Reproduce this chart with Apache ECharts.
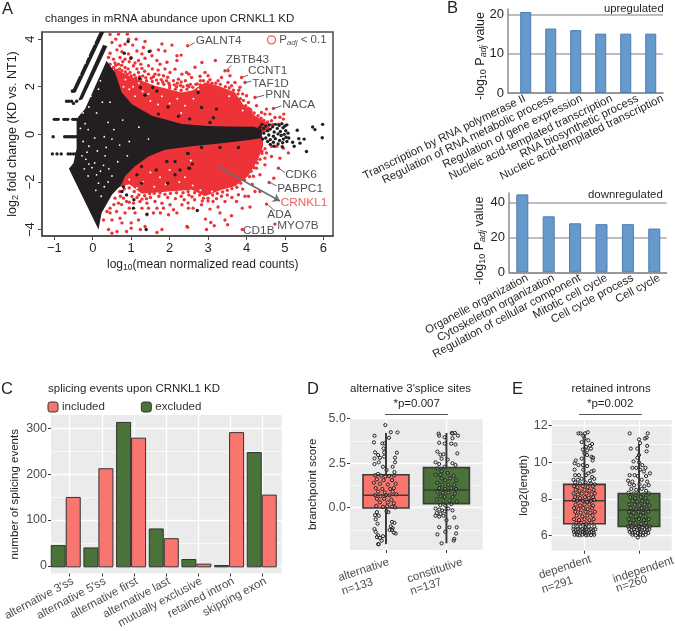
<!DOCTYPE html>
<html><head><meta charset="utf-8">
<style>html,body{margin:0;padding:0;background:#fff}#c{width:675px;height:631px}</style>
<script src="https://cdn.jsdelivr.net/npm/echarts@6/dist/echarts.min.js"></script>
</head><body><div id="c"></div>
<script>
// ---------- Panel A: MA plot ----------
const maRedCloudUpper=[[.55,2.8],[.93,2.46],[1.62,2.04],[2.32,1.76],[2.6,1.85],[2.92,2.18],[3.26,2.04],[3.7,1.76],[3.91,1.27],[4.22,.78],[4.6,.45],[4.6,.1],[.4,.1]];
const maRedCloudLower=[[.62,-2.25],[.95,-2.1],[1.28,-2.5],[1.97,-2.4],[2.58,-2.33],[2.92,-2.6],[3.35,-2.33],[3.7,-2.18],[4.04,-1.76],[4.3,-1.07],[4.43,-.5],[4.43,-.1],[.6,-.1]];
const maBlackCore=[[-.2,1.06],[.36,3.09],[.58,2.6],[.755,1.76],[1.02,1.27],[1.54,.78],[2.32,.43],[3,.35],[3.5,.33],[4.2,.32],[4.4,.2],[4.4,-.15],[4.13,-.23],[3.35,-.37],[2.58,-.5],[1.88,-.65],[1.45,-.93],[1.1,-1.34],[.84,-1.76],[.755,-2.1],[.5,-2.54],[.23,-3.3],[.15,-4.0],[-.62,-1.45],[-.5,-1.2],[-.42,-.6],[-.42,.6],[-.37,.75]];
const maBlackStripeA=[[-.56,1.74],[.18,4.3],[.3,4.3],[-.44,1.78]];
const maBlackStripeB=[[-.38,1.42],[.27,3.76],[.38,3.7],[-.27,1.46]];
const maRedFringe=[
[.45,4.2],[.67,4.21],[.9,4.21],[.93,4.0],[1.13,4.0],[1.36,3.9],[.6,4.0],[.5,3.86],[.71,3.72],[.84,3.79],[1.04,3.75],[1.32,3.65],[1.8,3.8],[2.06,3.75],[2.47,3.72],[1.71,3.55],[1.5,3.5],[1.28,3.38],[1.15,3.5],[.93,3.38],[.76,3.47],[.63,3.55],[.45,3.41],[.41,3.23],[.54,3.16],[.71,3.23],[.84,3.16],[1.0,3.23],[1.19,3.1],[1.36,3.2],[1.54,3.3],[1.67,3.1],[1.88,3.5],[2.19,3.3],[2.3,3.33],[2.19,3.1],[1.93,3.03],[1.75,2.95],[1.45,2.88],[1.28,2.77],[1.06,2.88],[.84,2.81],[.67,2.95],[.54,2.81],[.45,2.95],[2.14,2.74],[2.01,2.6],[2.32,2.53],[2.5,2.53],[2.54,2.1],[2.41,2.25],[2.23,2.32],[2.1,2.25],[1.84,2.46],[1.62,2.53],[1.45,2.53],[1.19,2.6],[.97,2.6],[.76,2.67],
[.58,3.0],[.78,3.05],[.95,3.05],[1.1,3.0],[1.25,2.95],[1.55,2.75],[1.7,2.7],[1.88,2.75],[1.92,2.25],[1.78,2.3],[1.3,2.45],[.62,2.7],[2.0,2.05],[2.18,2.0],[2.35,2.0],
[.7,2.75],[.85,2.62],[1.0,2.45],[1.12,2.38],[1.25,2.3],[1.4,2.25],[1.55,2.22],[1.7,2.14],[1.85,2.1],[2.0,1.95],[2.15,1.9],[2.3,1.85],[2.45,1.9],[.9,2.52],[1.08,2.5],[1.22,2.42],[1.38,2.38],[1.52,2.36],[1.66,2.28],[1.82,2.2],[1.98,2.15],[2.12,2.08],[2.28,2.05],[2.46,2.05],[2.6,1.98],[2.72,2.12],[2.8,2.08],[2.88,2.25],[3.0,2.2],[3.1,2.15],[3.2,2.15],[3.32,2.1],[3.45,2.0],[3.55,1.95],[3.66,1.85],[3.78,1.7],[3.84,1.5],[3.92,1.42],[3.98,1.2],[4.05,1.1],[4.12,.95],[4.2,.9],[4.3,.78],[4.38,.68],[4.45,.58],[4.55,.52],[4.68,.42],[.6,2.9],[.75,2.9],[.92,2.75],[1.15,2.75],[1.35,2.65],[1.58,2.42],[1.72,2.5],[1.95,2.4],[2.2,2.15],[2.3,2.2],
[3.19,3.1],[2.84,3.02],[3.44,2.67],[3.52,2.67],[2.66,2.82],[2.44,2.6],[2.92,2.6],[3.0,2.46],[2.79,2.44],[2.57,2.39],[3.57,2.46],[3.35,2.39],[3.87,2.39],[3.96,2.18],[3.7,2.18],[3.26,2.25],[3.52,2.18],[3.61,2.04],[3.83,1.98],[4.0,1.62],[4.22,1.55],[4.05,1.34],[4.26,1.2],[4.52,1.06],[4.7,1.09],[4.39,.92],[4.48,.85],[4.87,.72],[4.97,.85],[4.61,.85],[4.74,.71],[4.65,.57],[4.83,.43],[4.96,.64],[2.68,2.1],[2.5,2.0],[3.05,2.3],[3.9,1.7],[4.1,1.05],[3.8,1.85],[2.8,2.25],
[.28,-3.6],[.5,-3.6],[.45,-3.3],[.62,-3.24],[.71,-3.52],[.84,-3.3],[.41,-4.0],[.5,-4.15],[.63,-4.08],[.88,-4.08],[1,-3.94],[1.24,-4.0],[1.36,-3.87],[1.67,-4.12],[1.8,-4.0],[1.19,-3.6],[1.0,-3.72],[.76,-3.72],[1.41,-3.38],[1.58,-3.3],[1.76,-3.3],[1.97,-3.38],[2.19,-3.3],[1.67,-3.1],[1.84,-3.1],[2.1,-3.17],[1.45,-3.1],[1.28,-3.1],[1.1,-3.3],[.95,-3.1],[.67,-2.89],[.88,-2.82],[1.06,-2.89],[1.23,-2.82],[1.41,-2.89],[1.62,-2.82],[1.8,-2.89],[.58,-2.68],[.8,-2.68],[1.02,-2.61],[.45,-3.1],[.37,-3.24],[2.45,-3.87],[2.32,-2.96],[2.01,-2.96],[2.49,-3.1],
[.55,-2.95],[.75,-2.95],[.72,-2.6],[.95,-2.85],[1.15,-2.65],[1.5,-2.65],[1.72,-2.6],[1.95,-2.65],[2.15,-2.7],[2.3,-2.6],[2.5,-2.55],[2.65,-2.75],
[.7,-2.4],[.82,-2.3],[.95,-2.25],[1.08,-2.4],[1.2,-2.55],[1.35,-2.58],[1.48,-2.5],[1.6,-2.48],[1.75,-2.45],[1.88,-2.52],[2.02,-2.48],[2.18,-2.45],[2.35,-2.45],[2.48,-2.4],[2.65,-2.45],[2.78,-2.55],[2.88,-2.68],[3.0,-2.68],[3.12,-2.55],[3.24,-2.48],[3.38,-2.42],[3.5,-2.35],[3.62,-2.28],[3.75,-2.22],[3.85,-2.05],[3.95,-1.92],[4.08,-1.78],[4.12,-1.55],[4.2,-1.4],[4.28,-1.2],[4.35,-1.05],[4.4,-.8],[4.48,-.6],[2.85,-2.8],[2.38,-2.75],[2.58,-2.62],[3.22,-2.7],[3.35,-2.6],[1.28,-2.72],[1.4,-2.7],
[2.47,-3.9],[2.93,-3.56],[3.07,-3.7],[2.96,-4.0],[3.16,-3.84],[3.44,-3.6],[3.51,-3.8],[3.89,-4.0],[4.74,-3.77],[4.52,-2.93],[4.59,-2.02],[4.71,-1.84],[4.83,-1.42],[3.61,-3.42],[3.31,-3.3],[3.05,-3.14],[3.89,-3.1],[4.09,-3.05],[2.61,-3.1],[2.83,-2.96],[3.26,-3.05],[3.74,-2.82],[4.05,-2.6],[4.22,-2.4],[4.35,-2.4],[3.96,-2.6],[3.79,-2.54],[3.44,-2.82],[3.13,-2.82],[2.48,-2.88],[4.18,-1.76],[4.26,-1.42],[4.35,-1.7],[4.48,-1.28],[4.48,-1],[4.65,-.93],[4.87,-1],[5.09,-.78],[4.65,-.5],[4.79,-.5],[4.96,-.58],[4.4,-.71],[4.52,-.78],[3.5,-2.55],[3.0,-2.8],[3.62,-2.65],[4.15,-2.1],[3.9,-2.3]];
const maBlackPoints=[
[.92,3.9],[1.47,3.48],[.82,3.41],[.99,3.2],[1.22,2.35],[1.24,1.97],[1.67,1.82],[1.36,1.64],[1.56,1.97],[1.96,1.15],[2.23,.76],[1.71,.85],[2.74,1.76],[3.22,1.06],[2.83,1.13],[2.52,.65],[3.14,.7],[3.05,.5],
[1.27,-1.35],[1.15,-1.7],[.8,-2.2],[.76,-2.4],[.88,-2.55],[1.07,-2.75],[1.27,-2.05],[1.95,-2.05],[1.65,-1.5],[2.14,-1.7],[2.14,-1.14],[2.47,-.8],[2.5,-1.42],[2.27,-1.5],[1.06,-3.1],[1.41,-3.35],[1.39,-4.0],[1.93,-1.14],[2.72,-3.2],[2.48,-.8],[2.59,-1.25],[2.52,-1.42],[2.83,-.55],[3.31,-.55],[3.79,-.55],
[-1.0,.63],[-.95,.63],[-.9,.63],[-.75,.63],[-.7,.63],[-.65,.63],[-.52,.63],[-.47,.63],[-.42,.63],[-1.03,-.1],[-.73,-.1],[-.68,-.1],[-.63,-.1],[-.58,-.1],[-.53,-.1],[-.48,-.1],[-.43,-.1],[-1.05,-.82],[-.93,-.82],[-.82,-.82],[-.64,-.82],[-.58,-.82],[-.5,-.82],[-.44,-.82],[-.68,1.39],[-.62,1.39],[-.55,1.39],[-.5,1.3],[-.42,1.39],[-.53,1.82],[-.48,1.82],
[4.35,.3],[4.4,.42],[4.45,.25],[4.5,.35],[4.55,.15],[4.6,.4],[4.62,.22],[4.68,.32],[4.72,.1],[4.75,.42],[4.8,.25],[4.85,.38],[4.88,.12],[4.92,.45],[4.95,.28],[5,.35],[5.02,.15],[4.9,-.05],[4.45,.05],[4.58,-.03],[4.7,-.08],[4.82,.02],[4.98,0],[5.03,-.12],[4.5,-.15],[4.62,-.22],[4.75,-.18],[4.86,-.26],[4.96,-.2],[4.42,-.2],[4.55,-.3],[4.7,-.33],[4.82,-.4],[4.94,-.35],[5.05,-.3],[4.62,-.42],[4.72,-.5],[4.93,-.52],[5.05,.4],[5.08,.05],
[5.32,.17],[5.72,.31],[5.78,.2],[5.98,.42],[5.97,-.14],[5.36,-.18],[5.56,-.72],[5.39,-.37],[5.24,-.5],[5.5,-.2],[5.2,-.33],[5.1,-.15]];
const maCoreGaps=[[-.12,.2],[-.2,.45],[.1,.9],[.25,1.35],[-.05,1.6],[.15,1.9],[.2,2.25],[-.25,.9],[.4,.5],[.55,.2],[.78,.6],[.3,-.1],[-.25,-.3],[-.1,-.5],[.05,-.15],[.35,-.55],[.5,-.2],[.7,-.45],[.95,-.3],[-.28,-.9],[-.18,-1.05],[-.1,-1.25],[-.02,-1.4],[.05,-1.2],[-.15,-.75],[.12,-.7],[.1,-1.7],[.2,-1.55],[.28,-1.3],[.32,-.9],[.42,-1.45],[.5,-1.75],[.15,-2.05],[.08,-2.35],[.22,-2.6],[.3,-2.2],[.4,-2.0],[-.12,-1.75],[-.22,-1.45],[1.2,.3],[1.45,-.2],[.9,-.9],[.65,-1.15],[-.1,1.15],[.45,1.35],[-.32,.25],
[-.34,2.5],[-.2,3.0],[-.12,3.28],[.03,3.8],[-.1,2.75],[.02,3.2],[.16,3.6],[-.22,2.2]];
const maRedGaps=[[.8,2.0],[1.05,2.0],[1.3,1.8],[1.1,1.6],[.95,1.9],[1.5,1.4],[1.8,1.6],[2.0,1.3],[2.2,1.5],[1.7,1.25],[2.4,1.2],[2.3,.9],[1.45,1.7],[.85,2.3],[1.2,2.15],[.95,-1.9],[1.3,-2.0],[1.6,-2.2],[1.9,-2.1],[1.5,-1.6],[2.0,-1.5],[2.25,-2],[2.4,-1.8],[1.15,-2.25],[1.75,-1.8],[2.6,-2.15],[2.8,-2.35],[.9,-2.3],[3.1,-2.4],[2.55,-1.1],[2.62,1.5],[2.75,1.9],[3.55,1.6],[3.9,1.0]];
const geneNames=['GALNT4','ZBTB43','CCNT1','TAF1D','PNN','NACA','CDK6','PABPC1','CRNKL1','ADA','MYO7B','CD1B'];
const geneLabelX=[2.68,3.46,4.04,4.15,4.49,4.93,5.01,4.8,4.89,4.54,4.8,3.91];
const geneLabelY=[3.92,3.12,2.66,2.13,1.68,1.26,-1.68,-2.28,-2.87,-3.38,-3.85,-4.03];
const geneLeaders=[[[2.52,3.73],[2.65,3.85]],[[3.48,2.7],[3.61,2.9]],[[3.89,2.39],[4.04,2.49]],[[3.97,2.17],[4.13,2.24]],[[4.24,1.55],[4.46,1.64]],[[4.72,1.09],[4.91,1.2]],[[4.82,-1.4],[5.0,-1.61]],[[4.59,-2],[4.78,-2.17]],[[4.52,-2.91],[4.74,-3.22]]];
const crnkl1Arrow=[[3.26,-1.36],[4.87,-2.8]];
const maXTicks=[-1,0,1,2,3,4,5,6], maYTicks=[-4,-2,0,2,4];
// ---------- Panel B ----------
const upCategories=['Transcription by RNA polymerase II','Regulation of RNA metabolic process','Regulation of gene expression','Nucleic acid-templated transcription','RNA biosynthetic process','Nucleic acid-templated transcription'];
const upValues=[20.6,16.4,16.0,15.1,15.1,15.1];
const downCategories=['Organelle organization','Cytoskeleton organization','Regulation of cellular component','Mitotic cell cycle','Cell cycle process','Cell cycle'];
const downValues=[44.5,32,28,27.5,27.5,25];
// ---------- Panel C ----------
const spliceCategories=["alternative 3'ss","alternative 5'ss",'alternative first','alternative last','mutually exclusive','retained intron','skipping exon'];
const spliceExcluded=[48,43,314,84,18,5,249];
const spliceIncluded=[152,214,280,63,8,292,157];
// ---------- Panel D ----------
const altBox=[0,-2.05,-.02,.7,1.85,4.2];
const conBox=[1,-2.0,.23,1.0,2.25,4.2];
const altPoints=[[-.01,4.64],[.08,4.24],[.19,4.23],[-.19,4.04],[.05,3.93],[-.2,3.67],[-.06,3.61],[-.02,3.62],[-.04,3.33],[-.18,3.11],[-.03,3.1],[-.13,2.96],[-.03,2.87],[.18,3.09],[.15,2.81],[-.19,2.77],[-.1,2.8],[-.12,2.55],[.15,2.55],[-.19,2.45],[-.05,2.3],[.11,2.3],[.01,2.12],[.14,2.0],[-.13,1.9],[-.18,1.82],[-.08,1.8],[-.01,1.75],[.05,1.78],[.13,1.8],[-.15,1.6],[-.04,1.55],[.1,1.55],[-.2,1.4],[-.1,1.35],[.03,1.3],[.16,1.35],[-.17,1.1],[-.06,1.05],[.07,1.05],[.13,1.1],[-.13,.9],[-.02,.85],[.11,.9],[-.18,.7],[-.09,.65],[0,.7],[.06,.7],[.17,.75],[-.15,.5],[-.03,.5],[.09,.45],[-.1,.3],[.03,.3],[.13,.25],[-.16,.1],[-.05,.05],[.02,.08],[.1,.05],[.15,.02],[-.15,-.25],[-.18,-.42],[-.12,-.45],[.01,-.2],[.04,-.25],[-.17,-.65],[-.14,-.9],[.1,-.8],[.14,-.85],[.08,-1.05],[.11,-1.15],[.06,-1.25],[-.19,-1.2],[-.17,-1.35],[-.13,-1.55],[-.05,-1.6],[.1,-1.25],[.16,-1.45],[.13,-1.4],[-.1,-1.7],[-.07,-1.85],[-.15,-1.65],[-.13,-2.05],[-.12,-2.05]];
const conPoints=[[.87,4.16],[.88,4.05],[1.09,4.2],[1.1,4.16],[1.14,4.2],[1.19,4.05],[.97,3.96],[1.1,3.9],[.88,3.65],[.97,3.6],[1.08,3.6],[1.15,3.55],[1.18,3.05],[.85,3.15],[.9,2.98],[.95,3],[.92,2.75],[1.02,2.7],[.82,2.55],[.88,2.45],[.97,2.3],[1.1,2.5],[1.15,2.4],[.85,2.2],[.92,2.05],[.82,1.85],[.9,1.85],[1.02,1.95],[1.12,1.8],[.92,1.65],[.98,1.55],[1.06,1.65],[1.16,1.55],[.85,1.4],[.93,1.3],[1.03,1.3],[1.13,1.3],[.88,1.1],[.98,1.05],[1.08,1.1],[1.16,1.05],[.85,.9],[.94,.85],[1.03,.85],[1.14,.8],[.9,.65],[.97,.6],[1.1,.6],[.84,.45],[.95,.4],[1.05,.4],[1.17,.35],[.9,.15],[.98,.12],[1.08,.2],[.82,-.05],[.88,-.1],[.93,-.15],[.97,-.2],[.84,-.3],[.9,-.35],[.95,-.45],[.88,-.5],[.82,-.45],[1.03,-.05],[1.1,-.15],[1.13,-.55],[1,-.7],[1.05,-1.1],[1.17,-1.1],[.88,-1.1],[.98,-1.35],[1.16,-1.45],[.85,-1.5],[1.13,-1.75],[1.12,-1.85],[.92,-2.0]];
// ---------- Panel E ----------
const depBox=[0,6.0,6.65,7.9,8.8,11.5];
const indBox=[1,5.95,6.5,7.4,8.3,11.0];
const depPoints=[[-.11,11.58],[-.07,11.58],[.01,11.58],[.06,11.64],[-.02,11.45],[0,11.3],[.07,11.2],[-.05,11.1],[.14,11],[.1,10.9],[.03,10.85],[.12,10.75],[.05,10.65],[-.03,10.7],[0,10.5],[.13,10.3],[.05,10.4],[-.05,10.2],[-.16,10.1],[.16,10.25],[.15,10.1],[-.18,9.95],[-.11,9.85],[-.03,9.85],[.05,9.8],[-.18,9.6],[-.02,9.6],[.17,9.55],[.13,9.5],[.07,9.4],[-.17,9.3],[-.1,9.3],[.03,9.3],[.14,9.2],[-.2,9.05],[-.12,9.05],[-.05,9.1],[.1,9],[.18,9.1],[-.17,8.9],[-.08,8.85],[.02,8.9],[.12,8.85],[.19,8.8],[-.19,8.7],[-.13,8.65],[-.03,8.7],[.06,8.65],[.15,8.7],[-.16,8.5],[-.09,8.45],[0,8.5],[.09,8.45],[.17,8.5],[-.2,8.3],[-.12,8.25],[-.05,8.3],[.04,8.3],[.13,8.25],[.19,8.3],[-.17,8.1],[-.08,8.05],[.01,8.1],[.08,8.05],[.16,8.1],[-.19,7.95],[-.13,7.9],[-.03,7.9],[.05,7.85],[.12,7.9],[.18,7.95],[-.16,7.7],[-.08,7.65],[0,7.7],[.09,7.7],[.16,7.65],[-.19,7.5],[-.11,7.45],[-.02,7.5],[.06,7.45],[.14,7.5],[-.17,7.3],[-.07,7.25],[.02,7.3],[.11,7.25],[.19,7.3],[-.14,7.1],[-.04,7.05],[.05,7.1],[.15,7.1],[-.19,6.9],[-.1,6.85],[0,6.9],[.09,6.85],[.17,6.9],[-.15,6.7],[-.06,6.7],[.03,6.65],[.13,6.7],[-.2,6.5],[-.13,6.5],[-.07,6.5],[.02,6.45],[.08,6.5],[.18,6.5],[-.2,6.35],[-.16,6.3],[-.12,6.35],[-.08,6.3],[-.04,6.35],[0,6.3],[.04,6.35],[.08,6.3],[.12,6.35],[.16,6.3],[.2,6.35],[-.19,6.2],[-.15,6.15],[-.11,6.2],[-.07,6.15],[-.03,6.2],[.01,6.15],[.05,6.2],[.09,6.15],[.13,6.2],[.17,6.15],[-.18,6.05],[-.13,6.05],[-.09,6.02],[-.04,6.05],[.03,6.02],[.07,6.05],[.12,6.03],[.18,6.05]];
const indPoints=[[.83,11.58],[1.16,11.58],[1.14,11.35],[1.11,11.3],[1,11.25],[1.02,11.05],[1.15,10.9],[.85,10.75],[.97,10.75],[1.14,10.6],[1,10.4],[.97,10.25],[.9,10.05],[1,10],[1.06,9.85],[.88,9.7],[.95,9.7],[1.12,9.7],[1.02,9.6],[1.09,9.5],[1.2,9.4],[.83,9.3],[.92,9.3],[.98,9.25],[1.13,9.25],[.8,9],[.88,8.95],[1.05,9.05],[1.15,8.95],[.83,8.8],[.91,8.75],[1.01,8.8],[1.1,8.7],[1.18,8.75],[.86,8.55],[.95,8.5],[1.05,8.55],[1.13,8.45],[.81,8.35],[.9,8.3],[.99,8.3],[1.08,8.25],[1.18,8.3],[.84,8.1],[.93,8.05],[1.03,8.1],[1.12,8.05],[.88,7.9],[.97,7.85],[1.06,7.9],[1.16,7.85],[.82,7.7],[.92,7.7],[1.01,7.65],[1.1,7.7],[1.19,7.65],[.85,7.5],[.95,7.45],[1.05,7.5],[1.14,7.45],[.82,7.3],[.9,7.25],[.99,7.3],[1.08,7.25],[1.17,7.3],[.85,7.1],[.94,7.05],[1.03,7.1],[1.12,7.05],[.81,6.9],[.9,6.85],[1,6.9],[1.09,6.85],[1.18,6.9],[.84,6.7],[.94,6.7],[1.04,6.65],[1.13,6.7],[.8,6.5],[.87,6.5],[.93,6.45],[1,6.5],[1.07,6.45],[1.14,6.5],[1.2,6.5],[.82,6.35],[.86,6.3],[.91,6.35],[.96,6.3],[1.01,6.35],[1.05,6.3],[1.1,6.35],[1.15,6.3],[1.19,6.35],[.83,6.2],[.88,6.15],[.93,6.2],[.98,6.15],[1.03,6.2],[1.08,6.15],[1.13,6.2],[1.17,6.15],[.88,6.05],[.94,6.02],[1.02,6.05],[1.07,6.02],[1.12,6.05],[.98,5.9]];

const FONT='"Liberation Sans", Arial, sans-serif', INK='#231f20', GG='#4d4d4d', RED='#ee3338', BLUE='#6699cc';
const PINK='#f8766d', GREEN='#4a7339';
const grids=[
 {left:42,top:32,width:291,height:204,show:true,borderColor:'#4a4a4a',borderWidth:1.5,backgroundColor:'#fff'},
 {left:508,top:9,width:155,height:84},
 {left:509,top:193,width:157.7,height:79.3},
 {left:46.7,top:415,width:235,height:160,show:true,backgroundColor:'#ebebeb',borderWidth:0},
 {left:350,top:418.7,width:132.7,height:131.3,show:true,backgroundColor:'#ebebeb',borderWidth:0},
 {left:551.7,top:420,width:120,height:130.7,show:true,backgroundColor:'#ebebeb',borderWidth:0},
 {left:49.4,top:415,width:228.7,height:160}];
const subRich=(size)=>({s:{fontSize:size-3.5,verticalAlign:'bottom',padding:[5,0,0,0],color:INK},i:{fontSize:size-3.5,fontStyle:'italic',verticalAlign:'bottom',padding:[5,0,0,0],color:INK},t:{fontSize:size,color:INK}});
const ggTick={show:true,length:3,lineStyle:{color:'#333',width:1}};
const white={show:true,lineStyle:{color:'#fff',width:1.3}};
const hiddenLine={show:false,onZero:false};
const minorWhite=(vals)=>({silent:true,z:1,symbol:'none',label:{show:false},lineStyle:{color:'#fff',width:.7,type:'solid'},data:vals.map(v=>({yAxis:v}))});
function vbar(gi,cats,offset,min,max,rot){return {gridIndex:gi,type:'value',min,max,axisLine:{show:true,onZero:false,lineStyle:{color:'#8a8c8e',width:1.5}},axisTick:{show:false},splitLine:{show:false},
 axisLabel:{customValues:cats.map((c,i)=>i+offset[i]),rotate:rot,margin:5,fontSize:11.4,color:INK,formatter:v=>cats[offset.findIndex((o,i)=>Math.abs(i+o-v)<1e-6)]}};}
function ybar(gi,max,ticks,gap,shift){return {gridIndex:gi,type:'value',min:0,max,axisLine:{show:true,onZero:false,lineStyle:{color:'#8a8c8e',width:1.5}},
 axisLabel:{customValues:ticks,fontSize:13,color:INK,margin:4},splitLine:{show:true,lineStyle:{color:'#a7a9ac',width:1.5}},axisTick:{show:false,customValues:ticks},
 name:'{t|-log}{s|10}{t| P}{i|adj}{t| value}',nameLocation:'middle',nameGap:gap,nameMoveOverlap:false,nameTextStyle:{padding:[0,shift,0,0],rich:subRich(12.5)}};}
function polySeries(polys,color,z){return {type:'custom',xAxisIndex:0,yAxisIndex:0,z,silent:true,clip:true,data:polys.map(p=>p[0]),
 renderItem:(params,api)=>({type:'polygon',shape:{points:polys[params.dataIndex].map(p=>api.coord(p))},style:{fill:color}})};}
function boxSeries(rows,fill,ax,half){return {type:'custom',xAxisIndex:ax,yAxisIndex:ax,z:3,silent:true,data:rows,
 renderItem:(params,api)=>{const x=api.value(0),L=api.coord([x-half,api.value(3)])[0],R=api.coord([x+half,api.value(3)])[0],C=api.coord([x,api.value(3)])[0];
  const Y=i=>api.coord([x,api.value(i)])[1],ln={stroke:'#3a3a3a',lineWidth:1.5},bl={stroke:'#3a3a3a',lineWidth:2};
  return {type:'group',children:[
   {type:'line',shape:{x1:C,y1:Y(1),x2:C,y2:Y(5)},style:bl},
   {type:'rect',shape:{x:L,y:Y(4),width:R-L,height:Y(2)-Y(4)},style:{fill,stroke:'#3a3a3a',lineWidth:1.6}},
   {type:'line',shape:{x1:L,y1:Y(3),x2:R,y2:Y(3)},style:ln}]};}};}
function jitter(data,ax,size){return {type:'scatter',xAxisIndex:ax,yAxisIndex:ax,z:4,silent:true,symbolSize:size,data,itemStyle:{color:'rgba(255,255,255,0.25)',borderColor:'#222',borderWidth:1,opacity:1}};}
const dot=(data,color,size,z)=>({type:'scatter',xAxisIndex:0,yAxisIndex:0,z,silent:true,symbolSize:size,data,itemStyle:{color,opacity:1}});
function textLine(t,x,y,rot){return {type:'text',x,y,rotation:rot*Math.PI/180,silent:true,style:{text:t,align:'center',verticalAlign:'middle',fontSize:11.5,fontFamily:FONT,fill:GG}};}
const T=(text,left,top,size,extra)=>({text,left,top,padding:0,textStyle:Object.assign({fontSize:size,fontWeight:'normal',color:INK,fontFamily:FONT},extra||{})});

const option={animation:false,backgroundColor:'#fff',textStyle:{fontFamily:FONT},
 title:[T('A',2,1,16.5),T('B',447,0,16.5),T('C',1,381,16.5),T('D',307,381,16.5),T('E',512,381,16.5),
  T('changes in mRNA abundance upon CRNKL1 KD',45,13,11.5),
  T('{t|log}{s|10}{t|(mean normalized read counts)}',107,258,12,{rich:subRich(12)}),
  T('upregulated',604,3,11.3),T('downregulated',588,189,11.4),
  T('splicing events upon CRNKL1 KD',48,383,11.5),
  T('alternative 3\'splice sites',350,382.5,11.5),T('*p=0.007',393.5,398,11.5),
  T('retained introns',571.5,382.5,11.5),T('*p=0.002',587,398,11.5),
 ],
 graphic:[
  {type:'line',silent:true,shape:{x1:385,y1:414.5,x2:448,y2:414.5},style:{stroke:'#555',lineWidth:1.2}},
  {type:'line',silent:true,shape:{x1:579,y1:414.5,x2:642,y2:414.5},style:{stroke:'#555',lineWidth:1.2}},
  textLine('alternative',363.7,570,18),textLine('n=133',357.3,586.7,18),
  textLine('constitutive',435,570.7,18),textLine('n=137',426,586.7,18),
  textLine('dependent',565,567.3,18),textLine('n=291',557.3,585,18),
  textLine('independent',643.3,570,18),textLine('n=260',631.7,584,18)],
 legend:{left:47.5,top:401,padding:0,itemWidth:10,itemHeight:10,itemGap:36,data:['included','excluded'],textStyle:{fontSize:11.5,color:'#333',padding:[0,0,0,-1]},itemStyle:{borderColor:'#333',borderWidth:1}},
 grid:grids,
 xAxis:[
  {gridIndex:0,type:'value',min:-1.32,max:6.25,axisLine:{show:true,onZero:false,lineStyle:{color:'#4a4a4a',width:1.5}},axisTick:{show:true,length:4,customValues:maXTicks,lineStyle:{color:'#4a4a4a'}},splitLine:{show:false},axisLabel:{customValues:maXTicks,fontSize:13,color:INK,margin:6,formatter:v=>v<0?'\u2212'+(-v):''+v}},
  vbar(1,upCategories,[-.03,.09,.24,.44,.48,.48],-.708,5.49,26),
  vbar(2,downCategories,[.19,.19,.19,.19,.19,.19],-.504,5.47,28),
  {gridIndex:3,type:'value',min:-.58,max:6.6,axisLine:hiddenLine,axisTick:Object.assign({customValues:[0,1,2,3,4,5,6]},ggTick),splitLine:white,
   axisLabel:{customValues:[.1,1.1,2.1,3.1,4.1,5.1,6.1],rotate:28,margin:7,fontSize:11.5,color:GG,formatter:v=>spliceCategories[Math.round(v-.1)]}},
  {gridIndex:4,type:'value',min:-.595,max:1.6,axisLine:hiddenLine,axisTick:Object.assign({customValues:[0,1]},ggTick),splitLine:white,axisLabel:{show:false}},
  {gridIndex:5,type:'value',min:-.6,max:1.6,axisLine:hiddenLine,axisTick:Object.assign({customValues:[0,1]},ggTick),splitLine:white,axisLabel:{show:false}},
  {gridIndex:6,type:'category',data:spliceCategories,show:false}],
 yAxis:[
  {gridIndex:0,type:'value',min:-4.27,max:4.3,axisLine:{show:true,onZero:false,lineStyle:{color:'#4a4a4a',width:1.5}},axisTick:{show:true,length:4,customValues:maYTicks,lineStyle:{color:'#4a4a4a'}},splitLine:{show:false},
   axisLabel:{customValues:maYTicks,rotate:90,fontSize:13,color:INK,margin:5,formatter:v=>v<0?'\u2212'+(-v):''+v},
   name:'{t|log}{s|2}{t| fold change (KD vs. NT1)}',nameLocation:'middle',nameGap:22,nameTextStyle:{rich:subRich(12.5)}},
  ybar(1,21.37,[0,10,20],20,10),ybar(2,45.3,[0,20,40],22,16),
  {gridIndex:3,type:'value',min:-16.5,max:329,axisLine:hiddenLine,axisTick:Object.assign({customValues:[0,100,200,300]},ggTick),splitLine:white,axisLabel:{customValues:[0,100,200,300],fontSize:12.5,color:GG,margin:4},
   name:'number of splicing events',nameLocation:'middle',nameGap:30,nameTextStyle:{fontSize:11.5,color:INK}},
  {gridIndex:4,type:'value',min:-2.376,max:5,axisLine:hiddenLine,axisTick:Object.assign({customValues:[0,2.5,5]},ggTick),splitLine:white,axisLabel:{customValues:[0,2.5,5],fontSize:12.5,color:GG,margin:4,formatter:v=>v.toFixed(1)},
   name:'branchpoint score',nameLocation:'middle',nameGap:31,nameTextStyle:{fontSize:11.5,color:INK}},
  {gridIndex:5,type:'value',min:5.18,max:12.31,axisLine:hiddenLine,axisTick:Object.assign({customValues:[6,8,10,12]},ggTick),splitLine:white,axisLabel:{customValues:[6,8,10,12],fontSize:12.5,color:GG,margin:4},
   name:'log2(length)',nameLocation:'middle',nameGap:20,nameTextStyle:{fontSize:11.5,color:INK}},
  {gridIndex:6,type:'value',min:-16.5,max:329,show:false,splitLine:{show:false}}],
 series:[
  polySeries([maRedCloudUpper,maRedCloudLower],RED,2),
  dot(maRedGaps,'#fff',2,2.2),
  dot(maRedFringe,RED,3.4,2.4),
  polySeries([maBlackCore,maBlackStripeA,maBlackStripeB],INK,3),
  dot(maCoreGaps,'#fff',1.8,3.5),
  dot(maBlackPoints,INK,3.4,4),
  {type:'lines',coordinateSystem:'cartesian2d',xAxisIndex:0,yAxisIndex:0,z:5,silent:true,data:geneLeaders.map(c=>({coords:c})),lineStyle:{color:'#555',width:.9,opacity:1}},
  {type:'lines',coordinateSystem:'cartesian2d',xAxisIndex:0,yAxisIndex:0,z:6,silent:true,symbol:['none','arrow'],symbolSize:7,data:[{coords:crnkl1Arrow}],lineStyle:{color:'#6d6e71',width:1.6,opacity:1}},
  {type:'scatter',xAxisIndex:0,yAxisIndex:0,z:7,silent:true,symbolSize:0,data:geneNames.map((n,i)=>({name:n,value:[geneLabelX[i],geneLabelY[i]],label:{color:n==='CRNKL1'?RED:INK}})),label:{show:true,position:'right',distance:0,fontSize:11.8,color:INK,formatter:p=>p.name}},
  {type:'scatter',xAxisIndex:0,yAxisIndex:0,z:7,silent:true,symbolSize:8,data:[[4.65,3.97]],itemStyle:{color:'#fff',borderColor:RED,borderWidth:1.3},label:{show:true,position:'right',distance:3,formatter:'{t|P}{i|adj}{t| < 0.1}',rich:subRich(11.5)}},
  {type:'bar',xAxisIndex:1,yAxisIndex:1,barWidth:11,z:3,silent:true,data:upValues.map((v,i)=>[i,v]),itemStyle:{color:BLUE,borderColor:'#4d7dad',borderWidth:1}},
  {type:'bar',xAxisIndex:2,yAxisIndex:2,barWidth:12,z:3,silent:true,data:downValues.map((v,i)=>[i,v]),itemStyle:{color:BLUE,borderColor:'#4d7dad',borderWidth:1}},
  {type:'line',xAxisIndex:3,yAxisIndex:3,data:[],z:1,silent:true,markLine:minorWhite([50,150,250])},
  {type:'bar',name:'excluded',xAxisIndex:6,yAxisIndex:6,barWidth:15,barGap:0,z:3,silent:true,data:spliceExcluded,itemStyle:{color:GREEN,borderColor:'#333',borderWidth:1}},
  {type:'bar',name:'included',xAxisIndex:6,yAxisIndex:6,barWidth:15,barGap:0,z:3,silent:true,data:spliceIncluded,itemStyle:{color:PINK,borderColor:'#333',borderWidth:1}},
  boxSeries([altBox],PINK,4,.38),boxSeries([conBox],GREEN,4,.38),jitter(altPoints,4,3.2),jitter(conPoints,4,3.2),
  {type:'line',xAxisIndex:4,yAxisIndex:4,data:[],z:1,silent:true,markLine:minorWhite([-1.25,1.25,3.75])},
  boxSeries([depBox],PINK,5,.38),boxSeries([indBox],GREEN,5,.38),jitter(depPoints,5,3.2),jitter(indPoints,5,3.2),
  {type:'line',xAxisIndex:5,yAxisIndex:5,data:[],z:1,silent:true,markLine:minorWhite([7,9,11])}
 ]};
const chart=echarts.init(document.getElementById('c'),null,{renderer:'canvas',width:675,height:631});
chart.setOption(option);
</script></body></html>
